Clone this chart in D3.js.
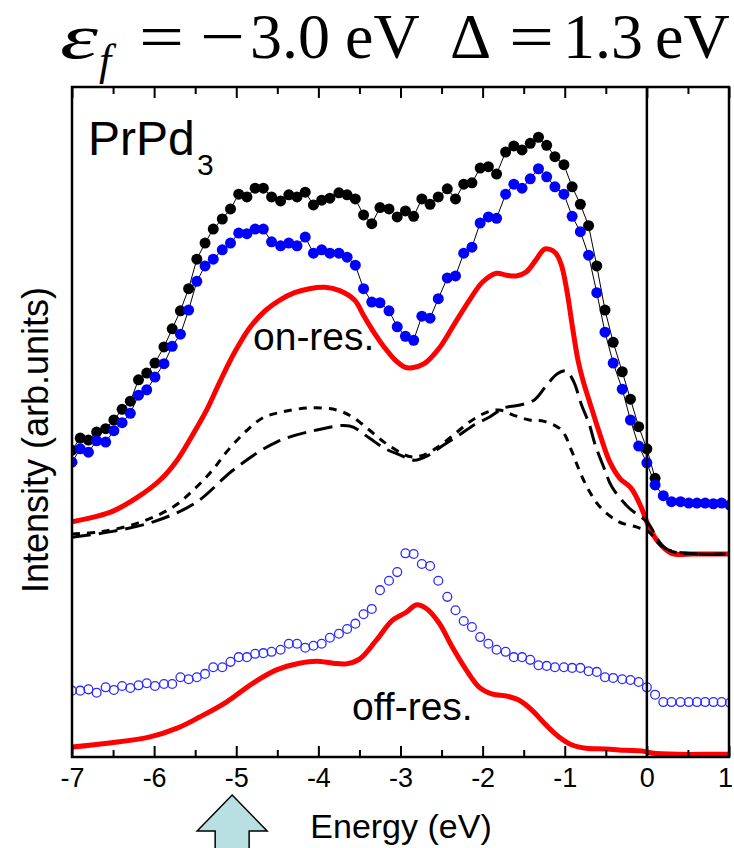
<!DOCTYPE html>
<html>
<head>
<meta charset="utf-8">
<script src="https://cdn.jsdelivr.net/npm/d3@7/dist/d3.min.js"></script>
<style>
  html, body { margin: 0; padding: 0; background: #fff; }
  svg { display: block; }
</style>
</head>
<body>
<svg id="chart" width="734" height="848"></svg>
<script>
// Photon-energy grid shared by the measured spectra (eV)
const gridE = [
  -7.00,-6.90,-6.80,-6.70,-6.59,-6.49,-6.39,-6.29,-6.19,-6.09,
  -5.99,-5.88,-5.78,-5.68,-5.58,-5.48,-5.38,-5.28,-5.17,-5.07,
  -4.97,-4.87,-4.77,-4.67,-4.57,-4.46,-4.36,-4.26,-4.16,-4.06,
  -3.96,-3.86,-3.75,-3.65,-3.55,-3.45,-3.35,-3.25,-3.14,-3.04,
  -2.94,-2.84,-2.74,-2.64,-2.54,-2.43,-2.33,-2.23,-2.13,-2.03,
  -1.93,-1.83,-1.72,-1.62,-1.52,-1.42,-1.32,-1.22,-1.12,-1.01,
  -0.91,-0.81,-0.71,-0.61,-0.51,-0.41,-0.30,-0.20,-0.10, 0.00,
   0.10, 0.20, 0.30, 0.41, 0.51, 0.61, 0.71, 0.81, 0.91, 1.01
];

// On-resonance spectrum, black filled circles (arb. units)
const onResBlack = [
  45.8,47.6,47.3,48.5,49.0,50.3,51.9,53.1,56.3,57.3,
  58.8,61.2,63.9,66.6,69.9,74.3,76.7,78.8,80.3,81.8,
  84.0,83.6,84.9,84.9,83.6,83.0,83.9,83.6,84.3,82.4,
  83.1,83.4,84.2,83.9,83.3,80.9,79.6,82.0,81.8,80.6,
  81.5,80.7,83.3,82.5,83.6,84.8,83.3,85.5,85.7,87.9,
  88.1,87.0,90.3,91.2,90.6,91.6,92.5,91.3,89.6,88.4,
  85.1,82.5,79.3,73.3,66.7,61.9,57.5,53.4,49.3,46.0,
  41.6
];

// On-resonance spectrum, blue filled circles (arb. units)
const onResBlue = [
  44.0,46.0,45.5,47.2,47.0,48.7,49.9,51.3,54.0,54.8,
  56.7,58.7,61.3,63.1,66.7,71.0,73.3,74.3,75.7,76.7,
  78.2,78.1,78.8,78.8,76.9,76.3,76.7,76.3,77.6,75.2,
  75.7,75.2,75.2,74.6,73.4,69.9,67.9,67.8,66.6,64.2,
  62.8,62.2,65.8,65.5,68.4,71.5,71.8,75.2,76.1,79.7,
  80.6,80.4,84.0,85.5,84.9,86.3,87.8,86.6,85.1,84.0,
  80.7,78.4,74.9,69.3,63.4,58.8,54.9,50.3,46.4,43.9,
  40.6,39.0,38.1,38.1,37.9,37.9,37.9,37.8,37.9,37.6
];

// Off-resonance spectrum, open circles (arb. units)
const offResOpen = [
   9.9, 9.9,10.1, 9.6,10.4,10.0,10.6,10.3,10.7,11.0,
  10.6,10.9,10.9,11.9,11.6,11.9,12.4,13.4,13.4,14.2,
  14.9,14.9,15.4,15.5,15.7,16.0,16.9,16.9,16.3,16.6,
  16.9,17.8,18.4,19.1,19.9,21.3,22.1,24.9,26.3,27.6,
  30.4,30.3,28.8,28.5,26.3,23.9,21.9,20.3,19.4,17.9,
  16.9,16.0,15.7,14.9,14.9,14.5,13.7,13.6,13.4,13.4,
  13.3,13.3,12.8,12.7,11.9,11.8,11.6,11.5,11.2,10.4,
   9.3, 8.2, 8.2, 8.2, 8.2, 8.2, 8.2, 8.2, 8.2, 8.1
];

// Calculated on-resonance spectrum (red solid)
const calcOnE = [-7.00,-6.74,-6.50,-6.21,-5.93,-5.72,-5.53,-5.36,-5.20,-5.02,
  -4.84,-4.65,-4.47,-4.29,-4.11,-3.92,-3.74,-3.56,-3.44,-3.32,
  -3.20,-3.07,-2.95,-2.86,-2.71,-2.53,-2.35,-2.16,-2.00,-1.83,
  -1.71,-1.59,-1.47,-1.35,-1.25,-1.19,-1.11,-1.04,-0.97,-0.91,
  -0.84,-0.78,-0.69,-0.57,-0.45,-0.33,-0.19,-0.07,0.01,0.13,
  0.30,0.58,1.00];
const calcOnI = [35.1,35.8,36.7,38.7,41.3,44.3,48.1,51.8,56.0,60.4,
  64.0,66.6,68.2,69.3,69.9,70.1,69.6,68.2,65.7,63.3,
  61.2,59.3,58.2,58.1,58.7,61.0,64.5,68.2,70.9,72.2,
  71.9,71.8,72.4,74.2,75.8,75.8,75.2,73.4,69.3,64.5,
  59.3,56.3,52.7,48.1,44.0,41.6,40.1,37.3,34.8,32.2,
  30.4,30.3,30.3];

// Calculated off-resonance spectrum (red solid)
const calcOffE = [-7.00,-6.54,-6.05,-5.72,-5.44,-5.12,-4.80,-4.51,-4.23,-4.02,
  -3.82,-3.66,-3.50,-3.29,-3.10,-2.93,-2.81,-2.69,-2.53,-2.37,
  -2.20,-2.04,-1.88,-1.71,-1.56,-1.40,-1.23,-1.07,-0.91,-0.74,
  -0.50,-0.26,-0.06,0.06,0.39,0.79,1.00];
const calcOffI = [1.5,2.1,3.0,4.3,6.0,8.2,11.0,13.0,14.0,14.3,
  14.0,13.9,14.6,17.5,20.4,21.6,22.7,22.2,20.0,16.4,
  13.0,10.4,9.4,9.1,8.5,7.0,4.8,3.0,1.8,1.3,
  1.2,1.0,0.9,0.6,0.4,0.4,0.4];

// Component curve, short dashes
const compShortE = [-7.00,-6.66,-6.20,-5.77,-5.50,-5.29,-5.12,-4.90,-4.68,-4.44,
  -4.11,-3.78,-3.58,-3.38,-3.20,-3.01,-2.87,-2.71,-2.53,-2.35,
  -2.16,-1.98,-1.80,-1.62,-1.43,-1.25,-1.04,-0.92,-0.83,-0.72,
  -0.57,-0.34,-0.12,0.02,0.17,0.33,0.63,1.00];
const compShortI = [33.3,33.6,34.9,37.3,40.1,42.8,45.5,48.4,50.6,51.5,
  52.1,51.8,50.7,48.8,47.0,45.5,44.8,45.1,46.4,48.1,
  50.0,51.3,51.8,51.0,50.3,50.1,48.8,45.8,43.0,40.1,
  37.3,35.1,34.3,33.6,31.6,30.6,30.3,30.3];

// Component curve, long dashes
const compLongE = [-7.00,-6.54,-6.01,-5.50,-5.02,-4.51,-4.02,-3.62,-3.38,-3.20,
  -3.01,-2.83,-2.65,-2.47,-2.28,-2.10,-1.92,-1.74,-1.56,-1.37,
  -1.22,-1.09,-0.98,-0.89,-0.80,-0.70,-0.63,-0.52,-0.43,-0.22,
  0.00,0.22,0.51,1.00];
const compLongI = [32.8,33.6,35.1,37.9,43.0,47.0,48.8,49.4,47.6,46.1,
  45.1,44.3,45.1,46.6,48.1,49.6,50.7,52.1,52.5,53.3,
  55.5,57.2,57.6,56.0,52.7,49.6,46.6,43.1,40.4,37.2,
  35.1,31.2,30.4,30.3];

// Axis ticks
const majorTicks = [-7, -6, -5, -4, -3, -2, -1, 0, 1];
const minorTicks = [-6.5, -5.5, -4.5, -3.5, -2.5, -1.5, -0.5, 0.5];
const fermiLevel = 0;
const arrowEnergy = -5.05;

const svg = d3.select("#chart");
const plot = { left: 72, right: 729, top: 87, bottom: 757 };

const x = d3.scaleLinear().domain([-7, 1]).range([plot.left, plot.right]);
const y = d3.scaleLinear().domain([0, 100]).range([plot.bottom, plot.top]);

svg.append("defs").append("clipPath").attr("id", "plotClip")
  .append("rect")
  .attr("x", plot.left).attr("y", plot.top)
  .attr("width", plot.right - plot.left).attr("height", plot.bottom - plot.top);

const g = svg.append("g").attr("clip-path", "url(#plotClip)");

const zip = (es, vs) => es.map((e, i) => [e, vs[i]]);
const smooth = d3.line().x(d => x(d[0])).y(d => y(d[1])).curve(d3.curveCatmullRom.alpha(0.5));
const straight = d3.line().x(d => x(d[0])).y(d => y(d[1]));

// Calculated curves
g.append("path").attr("d", smooth(zip(calcOnE, calcOnI)))
  .attr("fill", "none").attr("stroke", "#ff0000").attr("stroke-width", 5)
  .attr("stroke-linejoin", "round");
g.append("path").attr("d", smooth(zip(calcOffE, calcOffI)))
  .attr("fill", "none").attr("stroke", "#ff0000").attr("stroke-width", 5)
  .attr("stroke-linejoin", "round");

// Components
g.append("path").attr("d", smooth(zip(compShortE, compShortI)))
  .attr("fill", "none").attr("stroke", "#000").attr("stroke-width", 3)
  .attr("stroke-dasharray", "8,7");
g.append("path").attr("d", smooth(zip(compLongE, compLongI)))
  .attr("fill", "none").attr("stroke", "#000").attr("stroke-width", 3)
  .attr("stroke-dasharray", "19,8");

// Measured spectra
const blackPts = zip(gridE.slice(0, onResBlack.length), onResBlack);
const bluePts = zip(gridE.slice(0, onResBlue.length), onResBlue);
const openPts = zip(gridE.slice(0, offResOpen.length), offResOpen);

g.append("path").attr("d", straight(blackPts))
  .attr("fill", "none").attr("stroke", "#000").attr("stroke-width", 1);
g.append("path").attr("d", straight(bluePts))
  .attr("fill", "none").attr("stroke", "#000").attr("stroke-width", 1);

g.append("g").selectAll("circle").data(blackPts).join("circle")
  .attr("cx", d => x(d[0])).attr("cy", d => y(d[1])).attr("r", 5.5)
  .attr("fill", "#000");
g.append("g").selectAll("circle").data(bluePts).join("circle")
  .attr("cx", d => x(d[0])).attr("cy", d => y(d[1])).attr("r", 5.5)
  .attr("fill", "#0000ff");
g.append("g").selectAll("circle").data(openPts).join("circle")
  .attr("cx", d => x(d[0])).attr("cy", d => y(d[1])).attr("r", 4.4)
  .attr("fill", "none").attr("stroke", "#2a2aff").attr("stroke-width", 1.3);

// Fermi level
svg.append("line")
  .attr("x1", x(fermiLevel)).attr("x2", x(fermiLevel))
  .attr("y1", plot.top).attr("y2", plot.bottom)
  .attr("stroke", "#000").attr("stroke-width", 2.5);

// Axes with inward ticks
const axisFont = "'Liberation Sans', Arial, sans-serif";
function styleAxis(sel) {
  sel.select(".domain").remove();
  sel.selectAll(".tick line").attr("stroke", "#000").attr("stroke-width", 2);
}
svg.append("g").attr("transform", `translate(0,${plot.bottom})`)
  .call(d3.axisBottom(x).tickValues(majorTicks).tickSize(-11).tickPadding(11)
    .tickFormat(d => String(d)))
  .call(styleAxis)
  .call(s => s.selectAll("text").attr("font-family", axisFont)
    .attr("font-size", 27).attr("fill", "#000")
    .attr("dx", d => d === 1 ? -4 : 0));
svg.append("g").attr("transform", `translate(0,${plot.bottom})`)
  .call(d3.axisBottom(x).tickValues(minorTicks).tickSize(-7).tickFormat(""))
  .call(styleAxis);
svg.append("g").attr("transform", `translate(0,${plot.top})`)
  .call(d3.axisTop(x).tickValues(majorTicks).tickSize(-11).tickFormat(""))
  .call(styleAxis);
svg.append("g").attr("transform", `translate(0,${plot.top})`)
  .call(d3.axisTop(x).tickValues(minorTicks).tickSize(-7).tickFormat(""))
  .call(styleAxis);

// Frame
svg.append("rect")
  .attr("x", plot.left).attr("y", plot.top)
  .attr("width", plot.right - plot.left).attr("height", plot.bottom - plot.top)
  .attr("fill", "none").attr("stroke", "#000").attr("stroke-width", 2.5);

// Axis titles
svg.append("text")
  .attr("x", 401).attr("y", 838).attr("text-anchor", "middle")
  .attr("font-family", axisFont).attr("font-size", 34)
  .text("Energy (eV)");
svg.append("text")
  .attr("transform", "translate(48,440) rotate(-90)")
  .attr("text-anchor", "middle")
  .attr("font-family", axisFont).attr("font-size", 36)
  .text("Intensity (arb.units)");

// Sample name
const name = svg.append("text").attr("font-family", axisFont).attr("fill", "#000");
name.append("tspan").attr("x", 88).attr("y", 155).attr("font-size", 48).text("PrPd");
name.append("tspan").attr("x", 197).attr("y", 175).attr("font-size", 30).text("3");

// Curve labels
svg.append("text").attr("x", 253).attr("y", 350)
  .attr("font-family", axisFont).attr("font-size", 39).text("on-res.");
svg.append("text").attr("x", 352).attr("y", 720)
  .attr("font-family", axisFont).attr("font-size", 39).text("off-res.");

// Parameter header (glyph widths stretched where the math symbols run wide)
const serif = "'Liberation Serif', 'Times New Roman', serif";
const header = [
  { t: "\u03B5", x: 60, y: 58, size: 64, italic: true, len: 38 },
  { t: "f", x: 99, y: 75, size: 44, italic: true },
  { t: "=", x: 139, y: 58, size: 64, len: 45 },
  { t: "\u2212", x: 200, y: 58, size: 64, len: 45 },
  { t: "3.0", x: 250, y: 58, size: 64 },
  { t: "eV", x: 345, y: 58, size: 64 },
  { t: "\u0394", x: 450, y: 58, size: 64 },
  { t: "=", x: 509, y: 58, size: 64, len: 45 },
  { t: "1.3", x: 563, y: 58, size: 64 },
  { t: "eV", x: 655, y: 58, size: 64 }
];
svg.append("g").selectAll("text").data(header).join("text")
  .attr("x", d => d.x).attr("y", d => d.y)
  .attr("font-family", serif).attr("font-size", d => d.size)
  .attr("font-style", d => d.italic ? "italic" : "normal")
  .each(function (d) {
    if (d.len) d3.select(this).attr("textLength", d.len).attr("lengthAdjust", "spacingAndGlyphs");
  })
  .text(d => d.t);

// Excitation-energy arrow below the axis
const ax = x(arrowEnergy);
const arrowPts = [
  [ax, 795], [ax + 35, 831], [ax + 17, 831], [ax + 17, 852],
  [ax - 17, 852], [ax - 17, 831], [ax - 35, 831]
];
svg.append("polygon")
  .attr("points", arrowPts.map(p => p.join(",")).join(" "))
  .attr("fill", "#b8e0e2").attr("stroke", "#000").attr("stroke-width", 1.5)
  .attr("stroke-linejoin", "miter");
</script>
</body>
</html>
